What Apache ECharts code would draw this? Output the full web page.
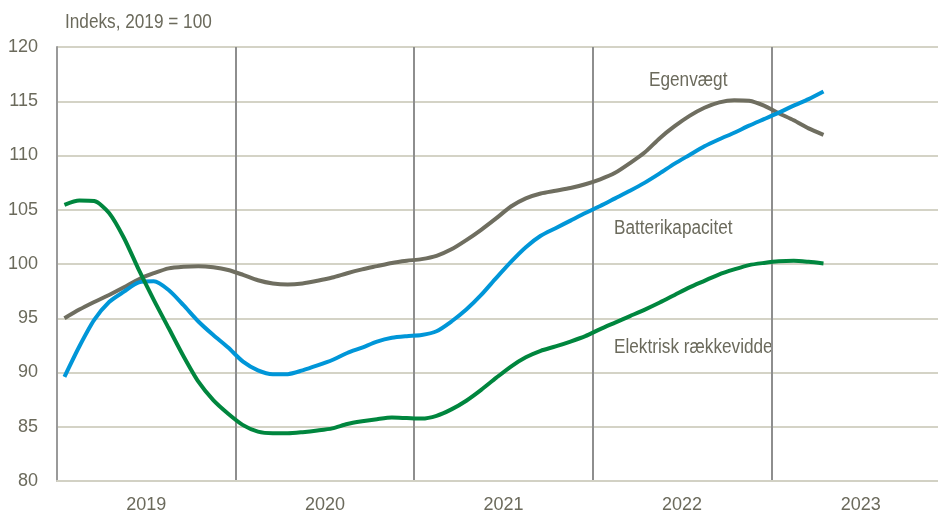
<!DOCTYPE html>
<html>
<head>
<meta charset="utf-8">
<script src="https://cdn.jsdelivr.net/npm/echarts@6/dist/echarts.min.js"></script>
<style>
  html, body { margin: 0; padding: 0; background: #fff; }
  #chart { width: 938px; height: 516px; }
</style>
</head>
<body>
<div id="chart"></div>
<script>
// monthly values, Jan 2019 - Apr 2023 (index, 2019 = 100)
const years = ['2019', '2020', '2021', '2022', '2023'];
const months = [];
years.forEach(y => { for (let m = 1; m <= 12; m++) months.push(y + '-' + (m < 10 ? '0' + m : m)); });

const egenvaegt = [
  95.0, 95.8, 96.5, 97.15, 97.85, 98.6, 99.15, 99.6, 99.75, 99.8, 99.7, 99.45,
  99.0, 98.5, 98.2, 98.1, 98.2, 98.45, 98.75, 99.15, 99.5, 99.8, 100.1, 100.3,
  100.45, 100.75, 101.35, 102.2, 103.15, 104.2, 105.3, 106.05, 106.5, 106.75, 107.0, 107.35,
  107.8, 108.4, 109.3, 110.3, 111.6, 112.7, 113.65, 114.4, 114.9, 115.1, 115.05, 114.6,
  113.9, 113.25, 112.5, 111.9
];
const batterikapacitet = [
  89.6, 92.4, 94.85, 96.5, 97.45, 98.3, 98.4, 97.6, 96.2, 94.7, 93.45, 92.3,
  91.0, 90.2, 89.85, 89.85, 90.2, 90.65, 91.15, 91.8, 92.3, 92.85, 93.2, 93.35,
  93.45, 93.8, 94.7, 95.8, 97.15, 98.7, 100.2, 101.55, 102.6, 103.3, 104.0, 104.7,
  105.35, 106.05, 106.75, 107.5, 108.35, 109.25, 110.05, 110.85, 111.5, 112.1, 112.75, 113.35,
  113.95, 114.6, 115.2, 115.9
];
const raekkevidde = [
  105.45, 105.85, 105.8, 104.7, 102.4, 99.45, 96.7, 94.1, 91.5, 89.15, 87.45, 86.2,
  85.15, 84.55, 84.4, 84.4, 84.5, 84.65, 84.85, 85.25, 85.5, 85.7, 85.85, 85.8,
  85.75, 86.0, 86.6, 87.4, 88.4, 89.5, 90.55, 91.4, 92.0, 92.4, 92.85, 93.35,
  94.0, 94.6, 95.2, 95.8, 96.45, 97.15, 97.85, 98.45, 99.05, 99.5, 99.9, 100.1,
  100.25, 100.3, 100.2, 100.05
];

const font = '"Liberation Sans", Arial, sans-serif';
const textColor = '#6b6a5c';

const chart = echarts.init(document.getElementById('chart'));

function line(name, data, color) {
  return {
    name: name,
    type: 'line',
    xAxisIndex: 0,
    data: data,
    smooth: 0.25,
    symbol: 'none',
    lineStyle: { color: color, width: 4 },
    z: 3
  };
}

// narrow-looking text labels (squeezed horizontally)
function label(text, x, y) {
  return {
    type: 'text', x: x, y: y, scaleX: 0.86,
    style: { text: text, font: '20px ' + font, fill: textColor, textVerticalAlign: 'middle' }
  };
}

chart.setOption({
  animation: false,
  grid: { left: 57, top: 47, bottom: 35, width: 893, outerBoundsMode: 'none' },
  xAxis: [
    {
      type: 'category',
      data: months,
      boundaryGap: true,
      show: false
    },
    {
      type: 'category',
      position: 'bottom',
      data: years,
      boundaryGap: true,
      axisLine: { show: true, lineStyle: { color: '#d2d1c4', width: 2 } },
      axisTick: { show: false },
      axisLabel: { fontFamily: font, fontSize: 18, color: textColor, margin: 15 },
      splitLine: { show: true, lineStyle: { color: '#8e8e8e', width: 2 } }
    }
  ],
  yAxis: {
    type: 'value',
    min: 80,
    max: 120,
    interval: 5,
    axisLine: { show: true, lineStyle: { color: '#9a9a9a', width: 2 } },
    axisTick: { show: false },
    axisLabel: { fontFamily: font, fontSize: 18, color: textColor, margin: 19 },
    splitLine: { lineStyle: { color: '#c6c5b3', width: 1.5 } }
  },
  series: [
    line('Egenvægt', egenvaegt, '#6f6e60'),
    line('Batterikapacitet', batterikapacitet, '#0096d8'),
    line('Elektrisk rækkevidde', raekkevidde, '#00863e')
  ],
  graphic: [
    label('Indeks, 2019 = 100', 65, 22),
    label('Egenvægt', 649, 80),
    label('Batterikapacitet', 614, 228),
    label('Elektrisk rækkevidde', 614, 347)
  ]
});
</script>
</body>
</html>
